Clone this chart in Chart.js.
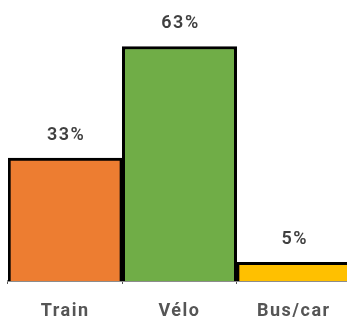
<!DOCTYPE html>
<html>
<head>
<meta charset="utf-8">
<script src="https://cdn.jsdelivr.net/npm/chart.js@4"></script>
<style>
  html, body { margin: 0; padding: 0; background: #fff; overflow: hidden; }
  #wrap { width: 351px; height: 338px; }
</style>
</head>
<body>
<div id="wrap"><canvas id="c"></canvas></div>
<script>
// Mode share chart
const categories = ['Train', 'Vélo', 'Bus/car'];
const shares = [33, 63, 5];
const barColors = ['#ED7D31', '#70AD47', '#FFC000'];

// Wider letter spacing, like the original
const spacing = {
    id: 'spacing',
    beforeDraw(chart) { chart.ctx.letterSpacing = '1.5px'; }
};

// Percent labels above each bar
const topLabels = {
    id: 'topLabels',
    afterDatasetsDraw(chart) {
        const ctx = chart.ctx;
        const meta = chart.getDatasetMeta(0);
        ctx.save();
        ctx.letterSpacing = '1.5px';
        ctx.font = "600 18px Roboto, sans-serif";
        ctx.fillStyle = '#404040';
        ctx.textAlign = 'center';
        ctx.textBaseline = 'middle';
        meta.data.forEach((bar, i) => {
            ctx.fillText(shares[i] + '%', bar.x + 1, bar.y - 23);
        });
        ctx.restore();
    }
};

new Chart(document.getElementById('c'), {
    type: 'bar',
    data: {
        labels: categories,
        datasets: [{
            data: shares,
            backgroundColor: barColors,
            borderColor: '#000',
            borderWidth: 3,
            borderSkipped: 'bottom',
            barPercentage: 1,
            categoryPercentage: 1
        }]
    },
    options: {
        responsive: true,
        maintainAspectRatio: false,
        animation: false,
        layout: { padding: { left: 8, right: 0, top: 0, bottom: 0 } },
        plugins: { legend: { display: false }, tooltip: { enabled: false } },
        scales: {
            x: {
                grid: { drawOnChartArea: false, drawTicks: true, tickLength: 3, color: '#555' },
                border: { display: true, color: '#8c8c8c', width: 2 },
                ticks: {
                    color: '#555',
                    padding: 18,
                    font: { family: 'Roboto, sans-serif', size: 18, weight: '700', lineHeight: 1 }
                }
            },
            y: {
                display: false,
                min: 0,
                max: 75.5
            }
        }
    },
    plugins: [spacing, topLabels]
});
</script>
</body>
</html>
